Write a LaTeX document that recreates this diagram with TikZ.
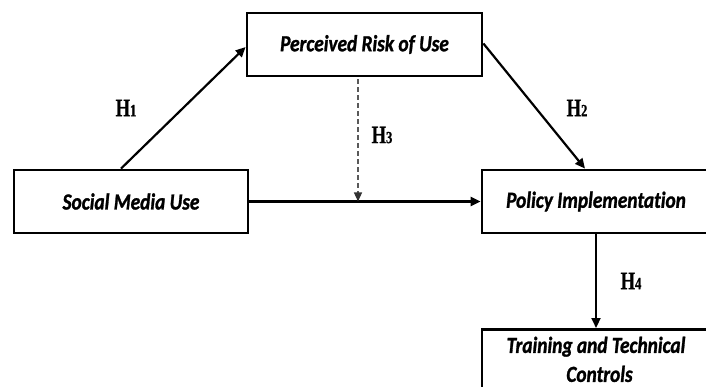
\documentclass[tikz,border=0pt]{standalone}
\usepackage{fontspec}
\usetikzlibrary{arrows.meta,calc}
\newfontfamily\boxfont[FakeStretch=0.84,Ligatures=NoCommon,FakeBold=1.2]{Carlito}
\newfontfamily\hfont[FakeStretch=0.74,FakeBold=0.8]{Liberation Serif}
\newcommand{\hyp}[1]{{\hfont\bfseries\fontsize{25}{25}\selectfont H\fontsize{17}{17}\selectfont #1}}
\tikzset{
  box/.style={draw=black, line width=2.8pt, minimum width=235pt, minimum height=63pt,
    inner sep=4pt, font=\boxfont\bfseries\itshape\fontsize{23}{29}\selectfont, align=center},
  arr/.style={line width=2.2pt, -{Triangle[length=10pt,width=9pt]}},
  darr/.style={line width=1.2pt, draw=black!65, dash pattern=on 5pt off 3pt,
    -{Triangle[length=9pt,width=8pt,color=black!80]}},
  hlab/.style={inner sep=0pt}
}
\begin{document}
\begin{tikzpicture}[x=1pt,y=-1pt]
\clip (0,0) rectangle (706,387);
\fill[white] (0,0) rectangle (706,387);
\node[box] (per) at (364.5,44.5) {Perceived Risk of Use};
\node[box, minimum width=234pt] (soc) at (131,201.5) {Social Media Use};
\node[box] (pol) at (599.5,201.5) {\hspace*{-7pt}Policy Implementation};
\node[box, anchor=north, minimum height=60pt, inner ysep=2pt] (tra) at (599.5,328) {\hspace*{-7pt}Training and Technical\\Controls};
\coordinate (mstart) at ([xshift=-6.5pt]per.south);
\coordinate (mid) at (mstart |- soc.east);
\draw[arr] ([xshift=-10pt]soc.north) -- ([yshift=-2.5pt]per.west);
\draw[arr] ([yshift=1pt]per.east) -- ([xshift=-14.5pt]pol.north);
\draw[arr] (soc.east) -- (pol.west);
\draw[darr, shorten <=2pt] (mstart) -- (mid);
\draw[arr] ([xshift=-3.5pt]pol.south) -- ([xshift=-3.5pt]tra.north);
\node[hlab] (h1) at (126,108) {\hyp{1}};
\node[hlab] (h2) at (577,108) {\hyp{2}};
\node[hlab] (h3) at (382,135) {\hyp{3}};
\node[hlab] (h4) at (631,281) {\hyp{4}};
\end{tikzpicture}
\end{document}
